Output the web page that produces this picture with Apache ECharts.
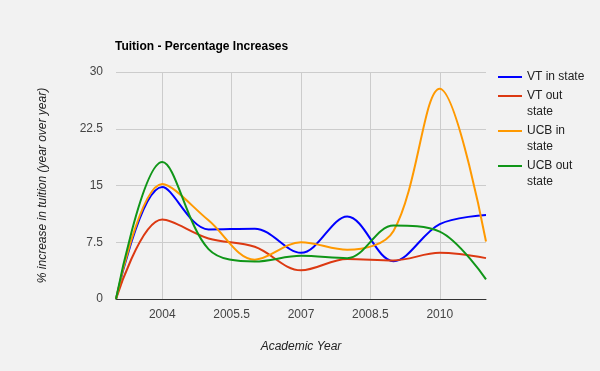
<!DOCTYPE html>
<html>
<head>
<meta charset="utf-8">
<script src="https://cdn.jsdelivr.net/npm/echarts@6/dist/echarts.min.js"></script>
<style>
html,body{margin:0;padding:0;background:#f2f2f2;}
#chart{width:600px;height:371px;}
</style>
</head>
<body>
<div id="chart"></div>
<script>
var years = [2003, 2004, 2005, 2006, 2007, 2008, 2009, 2010, 2011];
var vtIn = [0, 14.8, 9.2, 9.3, 6.1, 10.9, 5.0, 9.9, 11.1];
var vtOut = [0, 10.5, 8.0, 6.9, 3.8, 5.3, 5.1, 6.1, 5.4];
var ucbIn = [0, 15.2, 10.4, 5.2, 7.5, 6.5, 9.0, 27.8, 7.6];
var ucbOut = [0, 18.1, 6.6, 4.95, 5.7, 5.4, 9.7, 8.9, 2.6];
var xTicks = [2004, 2005.5, 2007, 2008.5, 2010];
var seriesNames = ['VT in state', 'VT out state', 'UCB in state', 'UCB out state'];
var seriesData = [vtIn, vtOut, ucbIn, ucbOut];
var colors = ['#0000ff', '#dc3912', '#ff9900', '#109618'];

var chart = echarts.init(document.getElementById('chart'), null, {renderer: 'canvas'});

var legendTops = [69, 72, 107, 142];

var legends = seriesNames.map(function (n, i) {
  return {
    data: [n],
    left: 498,
    top: legendTops[i],
    orient: 'vertical',
    padding: 0,
    icon: 'rect',
    itemWidth: 24,
    itemHeight: 2,
    selectedMode: false,
    formatter: function (name) {
      var k = name.lastIndexOf(' ');
      var one = name.length <= 11;
      return one ? name : '\n' + name.slice(0, k) + '\n' + name.slice(k + 1);
    },
    textStyle: {
      fontFamily: 'Arial, Liberation Sans, sans-serif',
      fontSize: 12,
      color: '#222',
      lineHeight: 16
    }
  };
});

var series = seriesNames.map(function (n, i) {
  return {
    name: n,
    type: 'line',
    smooth: 0.35,
    showSymbol: false,
    symbol: 'none',
    color: colors[i],
    lineStyle: {width: 2, color: colors[i]},
    data: years.map(function (y, j) { return [y, seriesData[i][j]]; })
  };
});

chart.setOption({
  backgroundColor: '#f2f2f2',
  animation: false,
  title: {
    text: 'Tuition - Percentage Increases',
    left: 115,
    top: 41,
    padding: 0,
    textStyle: {fontFamily: 'Arial, Liberation Sans, sans-serif', fontSize: 12, fontWeight: 'bold', color: '#000'}
  },
  legend: legends,
  grid: {left: 116, right: 114, top: 72, bottom: 72, containLabel: false},
  xAxis: {
    type: 'value',
    min: 2003,
    max: 2011,
    name: 'Academic Year',
    nameLocation: 'middle',
    nameGap: 42,
    nameTextStyle: {fontFamily: 'Arial, Liberation Sans, sans-serif', fontSize: 12, fontStyle: 'italic', color: '#222'},
    axisLine: {show: true, lineStyle: {color: '#333', width: 1}},
    axisTick: {show: false, customValues: xTicks},
    axisLabel: {customValues: xTicks, margin: 10, color: '#444', fontFamily: 'Arial, Liberation Sans, sans-serif', fontSize: 12,
      formatter: function (v) { return String(v); }},
    splitLine: {show: true, lineStyle: {color: '#ccc', width: 1}}
  },
  yAxis: {
    type: 'value',
    min: 0,
    max: 30,
    interval: 7.5,
    name: '% increase in tuition (year over year)',
    nameLocation: 'middle',
    nameGap: 67,
    nameTextStyle: {fontFamily: 'Arial, Liberation Sans, sans-serif', fontSize: 12, fontStyle: 'italic', color: '#222'},
    axisLine: {show: false},
    axisTick: {show: false},
    axisLabel: {margin: 13, color: '#444', fontFamily: 'Arial, Liberation Sans, sans-serif', fontSize: 12},
    splitLine: {show: true, lineStyle: {color: '#ccc', width: 1}}
  },
  series: series
});
</script>
</body>
</html>
